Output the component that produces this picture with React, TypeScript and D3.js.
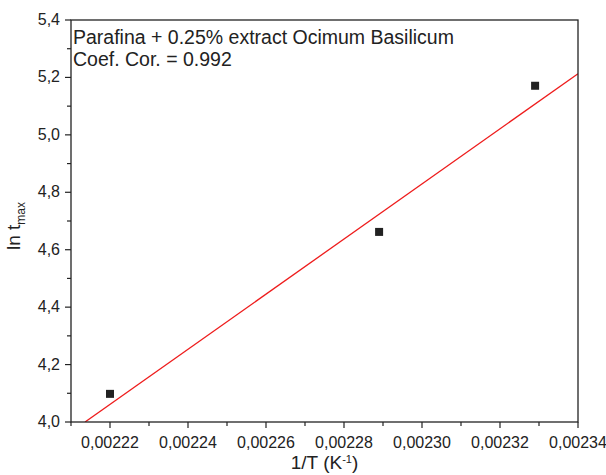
import React from "react";
import * as d3 from "d3";

const pointsX = [0.00222, 0.002289, 0.002329];
const pointsY = [4.098, 4.662, 5.171];
const fitX = [0.0022136, 0.00234];
const fitY = [4.0, 5.213];
const xTicks = [0.00222, 0.00224, 0.00226, 0.00228, 0.0023, 0.00232, 0.00234];
const yTicks = [4.0, 4.2, 4.4, 4.6, 4.8, 5.0, 5.2, 5.4];
const xMinor = [0.00221, 0.00223, 0.00225, 0.00227, 0.00229, 0.00231, 0.00233];
const yMinor = [4.1, 4.3, 4.5, 4.7, 4.9, 5.1, 5.3];
const annotation = ["Parafina + 0.25% extract Ocimum Basilicum", "Coef. Cor. = 0.992"];

export default function App() {
  const W = 606, H = 475;
  const left = 71, right = 578, top = 20, bottom = 422;
  const x = d3.scaleLinear().domain([0.00221, 0.00234]).range([left, right]);
  const y = d3.scaleLinear().domain([4.0, 5.4]).range([bottom, top]);
  const line = d3.line<number>().x((d) => x(fitX[d])).y((d) => y(fitY[d]));
  const ink = "#222";
  const font = "'Liberation Sans', Arial, sans-serif";
  const fmtX = (v: number) => v.toFixed(5).replace(".", ",");
  const fmtY = (v: number) => v.toFixed(1).replace(".", ",");
  return (
    <svg width={W} height={H} style={{ position: "absolute", left: 0, top: 0 }} fontFamily={font}>
      <rect width={W} height={H} fill="#fff" />
      <defs>
        <clipPath id="clip">
          <rect x={left} y={top} width={right - left} height={bottom - top} />
        </clipPath>
      </defs>
      <path d={line([0, 1]) || ""} stroke="#ee1c1c" strokeWidth={1.3} fill="none" clipPath="url(#clip)" />
      {pointsX.map((px, i) => (
        <rect key={i} x={x(px) - 4} y={y(pointsY[i]) - 4} width={8} height={8} fill={ink} />
      ))}
      <rect x={left} y={top} width={right - left} height={bottom - top} fill="none" stroke={ink} strokeWidth={1.3} />
      {xTicks.map((t) => (
        <g key={t}>
          <line x1={x(t)} x2={x(t)} y1={bottom} y2={bottom + 6} stroke={ink} strokeWidth={1.2} />
          <text x={x(t)} y={bottom + 26} textAnchor="middle" fontSize={16} fill={ink}>{fmtX(t)}</text>
        </g>
      ))}
      {xMinor.map((t) => (
        <line key={t} x1={x(t)} x2={x(t)} y1={bottom} y2={bottom + 4} stroke={ink} strokeWidth={1.2} />
      ))}
      {yTicks.map((t) => (
        <g key={t}>
          <line x1={left - 6} x2={left} y1={y(t)} y2={y(t)} stroke={ink} strokeWidth={1.2} />
          <text x={left - 11} y={y(t) + 5} textAnchor="end" fontSize={16} fill={ink}>{fmtY(t)}</text>
        </g>
      ))}
      {yMinor.map((t) => (
        <line key={t} x1={left - 4} x2={left} y1={y(t)} y2={y(t)} stroke={ink} strokeWidth={1.2} />
      ))}
      <text x={(left + right) / 2} y={469} textAnchor="middle" fontSize={19} fill={ink}>
        1/T (K<tspan dy={-6} fontSize={11}>-1</tspan><tspan dy={6}>)</tspan>
      </text>
      <text transform={`translate(20, 226) rotate(-90)`} textAnchor="middle" fontSize={19} fill={ink}>
        ln t<tspan dy={5} fontSize={12}>max</tspan>
      </text>
      {annotation.map((s, i) => (
        <text key={i} x={left + 2} y={44 + i * 22} fontSize={19.5} fill={ink}>{s}</text>
      ))}
    </svg>
  );
}
